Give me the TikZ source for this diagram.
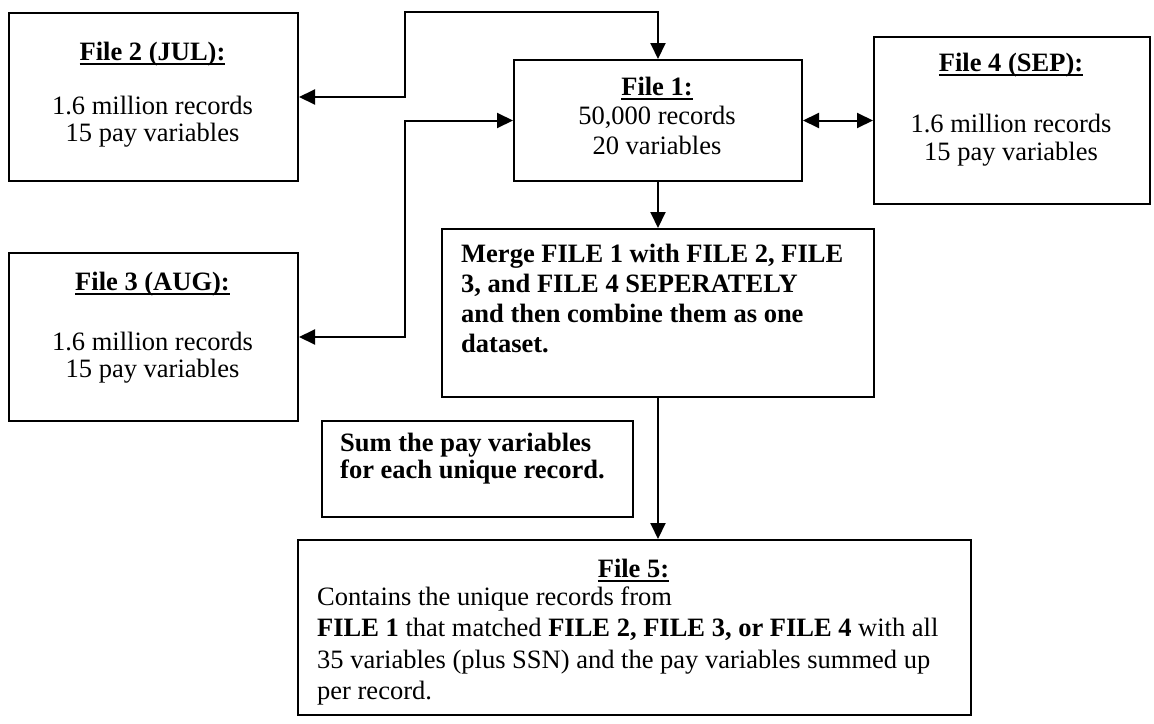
\documentclass[tikz,border=0pt]{standalone}
\usepackage{fontspec}
\setmainfont{Liberation Serif}
\usetikzlibrary{arrows.meta}
\newcommand\fileul[1]{\setbox0\hbox{#1}\rlap{\rule[-5pt]{\wd0}{2pt}}\box0}
\begin{document}
\begin{tikzpicture}[x=1pt,y=-1pt,
  box/.style={draw, line width=2pt, inner sep=0pt, anchor=north west},
  txt/.style={inner sep=0pt, anchor=base, align=center, font=\fontsize{26.5}{#1}\selectfont},
  ltxt/.style={inner sep=0pt, anchor=base west, align=left, font=\fontsize{26.5}{#1}\selectfont},
  bltxt/.style={inner sep=0pt, anchor=base west, align=left, font=\fontsize{26.5}{#1}\selectfont\bfseries},
  arr/.style={line width=2pt, {Triangle[length=16pt,width=15pt]}-{Triangle[length=16pt,width=15pt]}},
  arr1/.style={line width=2pt, -{Triangle[length=16pt,width=15pt]}}
]
\useasboundingbox[fill=white] (0,0) rectangle (1154,723);

% boxes
\node[box, minimum width=289pt, minimum height=168pt] (f2) at (8,12) {};
\node[box, minimum width=288pt, minimum height=121pt] (f1) at (513,59) {};
\node[box, minimum width=276pt, minimum height=167pt] (f4) at (873,36) {};
\node[box, minimum width=289pt, minimum height=168pt] (f3) at (8,252) {};
\node[box, minimum width=432pt, minimum height=168pt] (mg) at (441,228) {};
\node[box, minimum width=311pt, minimum height=96pt] (sm) at (321,420) {};
\node[box, minimum width=673pt, minimum height=175pt] (f5) at (297,539) {};

% texts (anchor = baseline of the last line)
\node[txt=28pt] (f2t) at (152.5,60) {\fileul{\textbf{File 2 (JUL):}}};
\node[txt=27pt] (f2b) at (152.5,141) {1.6 million records\\15 pay variables};

\node[txt=28pt] (f4t) at (1011,71) {\fileul{\textbf{File 4 (SEP):}}};
\node[txt=28pt] (f4b) at (1011,160) {1.6 million records\\15 pay variables};

\node[txt=28pt] (f3t) at (152.5,290) {\fileul{\textbf{File 3 (AUG):}}};
\node[txt=27pt] (f3b) at (152.5,377) {1.6 million records\\15 pay variables};

\node[txt=29.5pt] (f1t) at (657,154) {\fileul{\textbf{File 1:}}\\50,000 records\\20 variables};

\node[bltxt=29.7pt] (mgt) at (461,352) {Merge FILE 1 with FILE 2, FILE\\3, and FILE 4 SEPERATELY\\and then combine them as one\\dataset.};

\node[bltxt=27.5pt] (smt) at (340,478.5) {Sum the pay variables\\for each unique record.};

\node[txt=28pt] (f5t) at (633.5,577) {\fileul{\textbf{File 5:}}};
\node[ltxt=31.5pt] (f5b) at (317,699.5) {Contains the unique records from\\\textbf{FILE 1} that matched \textbf{FILE 2, FILE 3, or FILE 4} with all\\35 variables (plus SSN) and the pay variables summed up\\per record.};

% connectors
\coordinate (j1) at (405,12);
\coordinate (j2) at (405,200);
\draw[arr] (f1.north) |- (j1) |- (f2.east);
\draw[arr] (f3.east) -| (j2) |- (f1.west);
\draw[arr] (f1.east) -- (f4.west);
\draw[arr1] (f1.south) -- (mg.north);
\draw[arr1] (mg.south) -- (mg.south |- f5.north);
\end{tikzpicture}
\end{document}
